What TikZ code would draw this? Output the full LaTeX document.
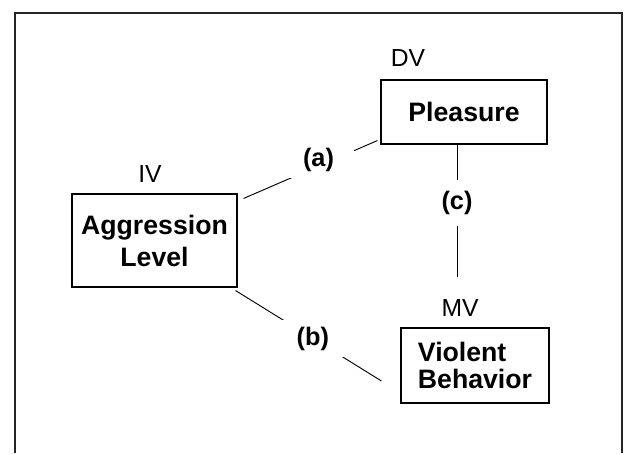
\documentclass[tikz,border=0pt]{standalone}
\usepackage{fontspec}
\setmainfont{Liberation Sans}
\usetikzlibrary{calc}

\begin{document}
\begin{tikzpicture}[x=0.75pt,y=-0.75pt]
\def\boxlw{0.8pt} %line width of the variable boxes
\def\linklw{0.7pt} %line width of the connectors
\def\framelw{1.2pt} %line width of the outer frame

\tikzstyle{var} = [rectangle, draw, line width=\boxlw, inner sep=0mm, align=center, font=\fontsize{20}{24}\selectfont\bfseries]
\tikzstyle{tag} = [inner sep=0mm, font=\fontsize{18.5}{22}\selectfont]
\tikzstyle{lbl} = [fill=white, inner xsep=15pt, inner ysep=5pt, font=\fontsize{19}{22}\selectfont\bfseries]
\tikzstyle{link} = [line width=\linklw]

\useasboundingbox (0,0) rectangle (627,453);
\draw[line width=\framelw, black!85] (15,453) -- (15,13) -- (622,13) -- (622,453);

%variable boxes
\node[var, minimum width=123.75pt, minimum height=69.75pt] (agg) at (154.5,240.5) {Aggression\\Level};
\node[var, minimum width=124.5pt, minimum height=48pt] (plea) at (464,112) {Pleasure};
\node[var, minimum width=111pt, minimum height=56.25pt, align=left, font=\fontsize{20}{20.5}\selectfont\bfseries] (viol) at (475,365.5) {Violent\\Behavior};

%variable types
\node[tag] (iv) at (150,174) {IV};
\node[tag] (dv) at (408,58) {DV};
\node[tag] (mv) at (460,308) {MV};

%paths
\coordinate (cend) at (457,277);

\draw[link] ($(agg.north east)+(6,5)$) -- node[lbl, pos=0.56, yshift=4.5pt] (la) {(a)} ($(plea.south west)+(-3,-4)$);
\draw[link] ($(agg.south east)+(-2,3)$) -- node[lbl, pos=0.53] (lb) {(b)} ($(viol.west)+(-19,15.5)$);
\draw[link] (plea.south -| cend) -- node[lbl, pos=0.44, inner ysep=8.5pt] (lc) {(c)} (cend);

\end{tikzpicture}
\end{document}
